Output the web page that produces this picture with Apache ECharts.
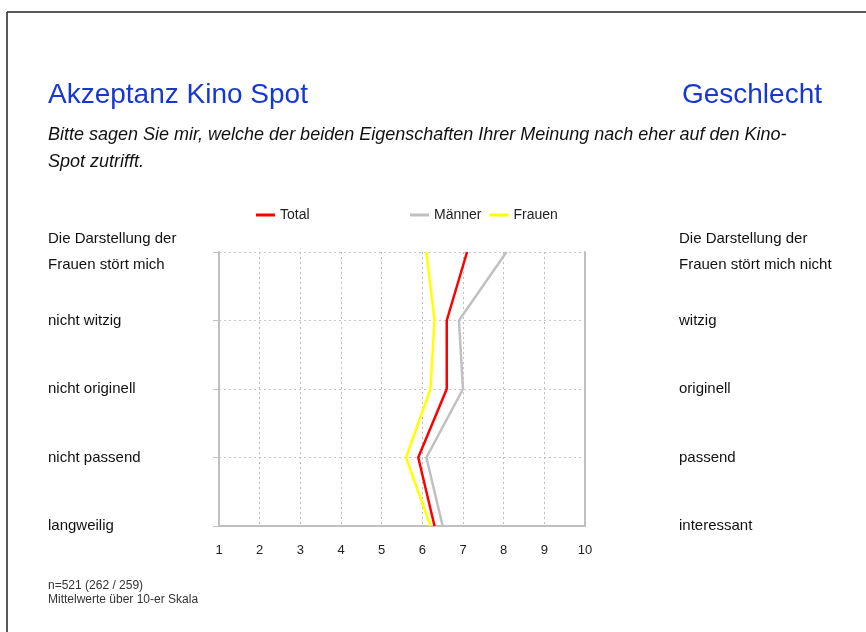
<!DOCTYPE html>
<html>
<head>
<meta charset="utf-8">
<script src="https://cdn.jsdelivr.net/npm/echarts@6/dist/echarts.min.js"></script>
<style>
  html, body { margin: 0; padding: 0; background: #fff; }
  #main { width: 866px; height: 632px; }
</style>
</head>
<body>
<div id="main"></div>
<script>
var leftLabels = ['Die Darstellung der\nFrauen stört mich', 'nicht witzig', 'nicht originell', 'nicht passend', 'langweilig'];
var rightLabels = ['Die Darstellung der\nFrauen stört mich nicht', 'witzig', 'originell', 'passend', 'interessant'];
var total = [7.1, 6.6, 6.6, 5.9, 6.3];
var maenner = [8.07, 6.9, 7.0, 6.1, 6.5];
var frauen = [6.1, 6.3, 6.2, 5.6, 6.2];

var font = '"Liberation Sans Narrow", "Liberation Sans", Arial, sans-serif';

var myChart = echarts.init(document.getElementById('main'));

var option = {
    backgroundColor: '#fff',
    animation: false,
    textStyle: { fontFamily: font },
    graphic: [
        { type: 'line', shape: { x1: 7, y1: 12, x2: 866, y2: 12 }, style: { stroke: '#222', lineWidth: 1.5 } },
        { type: 'line', shape: { x1: 7, y1: 12, x2: 7, y2: 632 }, style: { stroke: '#222', lineWidth: 1.5 } },
        { type: 'text', left: 48, top: 81, style: { text: 'Akzeptanz Kino Spot', fill: '#1737d0', font: '28px ' + font } },
        { type: 'text', right: 44, top: 81, style: { text: 'Geschlecht', fill: '#1737d0', font: '28px ' + font } },
        { type: 'text', left: 48, top: 121, style: { text: 'Bitte sagen Sie mir, welche der beiden Eigenschaften Ihrer Meinung nach eher auf den Kino-\nSpot zutrifft.', fill: '#111', font: 'italic 18px ' + font, lineHeight: 27 } },
        { type: 'text', left: 48, top: 579, style: { text: 'n=521 (262 / 259)\nMittelwerte über 10-er Skala', fill: '#333', font: '12px ' + font, lineHeight: 14 } }
    ],
    legend: [{
        data: ['Total'],
        left: 251, top: 203,
        itemWidth: 19, itemHeight: 3,
        icon: 'rect',
        textStyle: { fontSize: 14, color: '#222', fontFamily: font }
    }, {
        data: ['Männer', 'Frauen'],
        left: 405, top: 203,
        itemGap: 8,
        itemWidth: 19, itemHeight: 3,
        icon: 'rect',
        textStyle: { fontSize: 14, color: '#222', fontFamily: font }
    }],
    grid: { left: 219, right: 281, top: 252, bottom: 106 },
    xAxis: {
        type: 'value',
        min: 1, max: 10, interval: 1,
        axisLine: { show: true, lineStyle: { color: '#c0c0c0', width: 2 } },
        axisTick: { show: false },
        axisLabel: { color: '#222', fontSize: 13, margin: 18, fontFamily: font },
        splitLine: { show: true, lineStyle: { color: '#bdbdbd', type: [2, 3], width: 1 } }
    },
    yAxis: [{
        type: 'category',
        data: leftLabels,
        inverse: true,
        boundaryGap: false,
        axisLine: { show: true, lineStyle: { color: '#c0c0c0', width: 2 } },
        axisTick: { show: true, length: 6, lineStyle: { color: '#c0c0c0' } },
        axisLabel: { align: 'left', margin: 171, color: '#111', fontSize: 15, lineHeight: 26, padding: [4, 0, 0, 0], fontFamily: font },
        splitLine: { show: true, lineStyle: { color: '#c8c8c8', type: [2, 3], width: 1 } }
    }, {
        type: 'category',
        data: rightLabels,
        inverse: true,
        boundaryGap: false,
        position: 'right',
        axisLine: { show: true, lineStyle: { color: '#c0c0c0', width: 2 } },
        axisTick: { show: false },
        axisLabel: { align: 'left', margin: 94, color: '#111', fontSize: 15, lineHeight: 26, padding: [4, 0, 0, 0], fontFamily: font },
        splitLine: { show: false }
    }],
    series: [{
        name: 'Total',
        type: 'line',
        data: total,
        yAxisIndex: 0,
        symbol: 'none',
        color: '#ff0000',
        lineStyle: { color: '#ff0000', width: 2.5 },
        z: 4
    }, {
        name: 'Männer',
        type: 'line',
        data: maenner,
        yAxisIndex: 0,
        symbol: 'none',
        color: '#c0c0c0',
        lineStyle: { color: '#c0c0c0', width: 2.5 },
        z: 3
    }, {
        name: 'Frauen',
        type: 'line',
        data: frauen,
        yAxisIndex: 0,
        symbol: 'none',
        color: '#ffff00',
        lineStyle: { color: '#ffff00', width: 2.5 },
        z: 3
    }]
};
myChart.setOption(option);
</script>
</body>
</html>
